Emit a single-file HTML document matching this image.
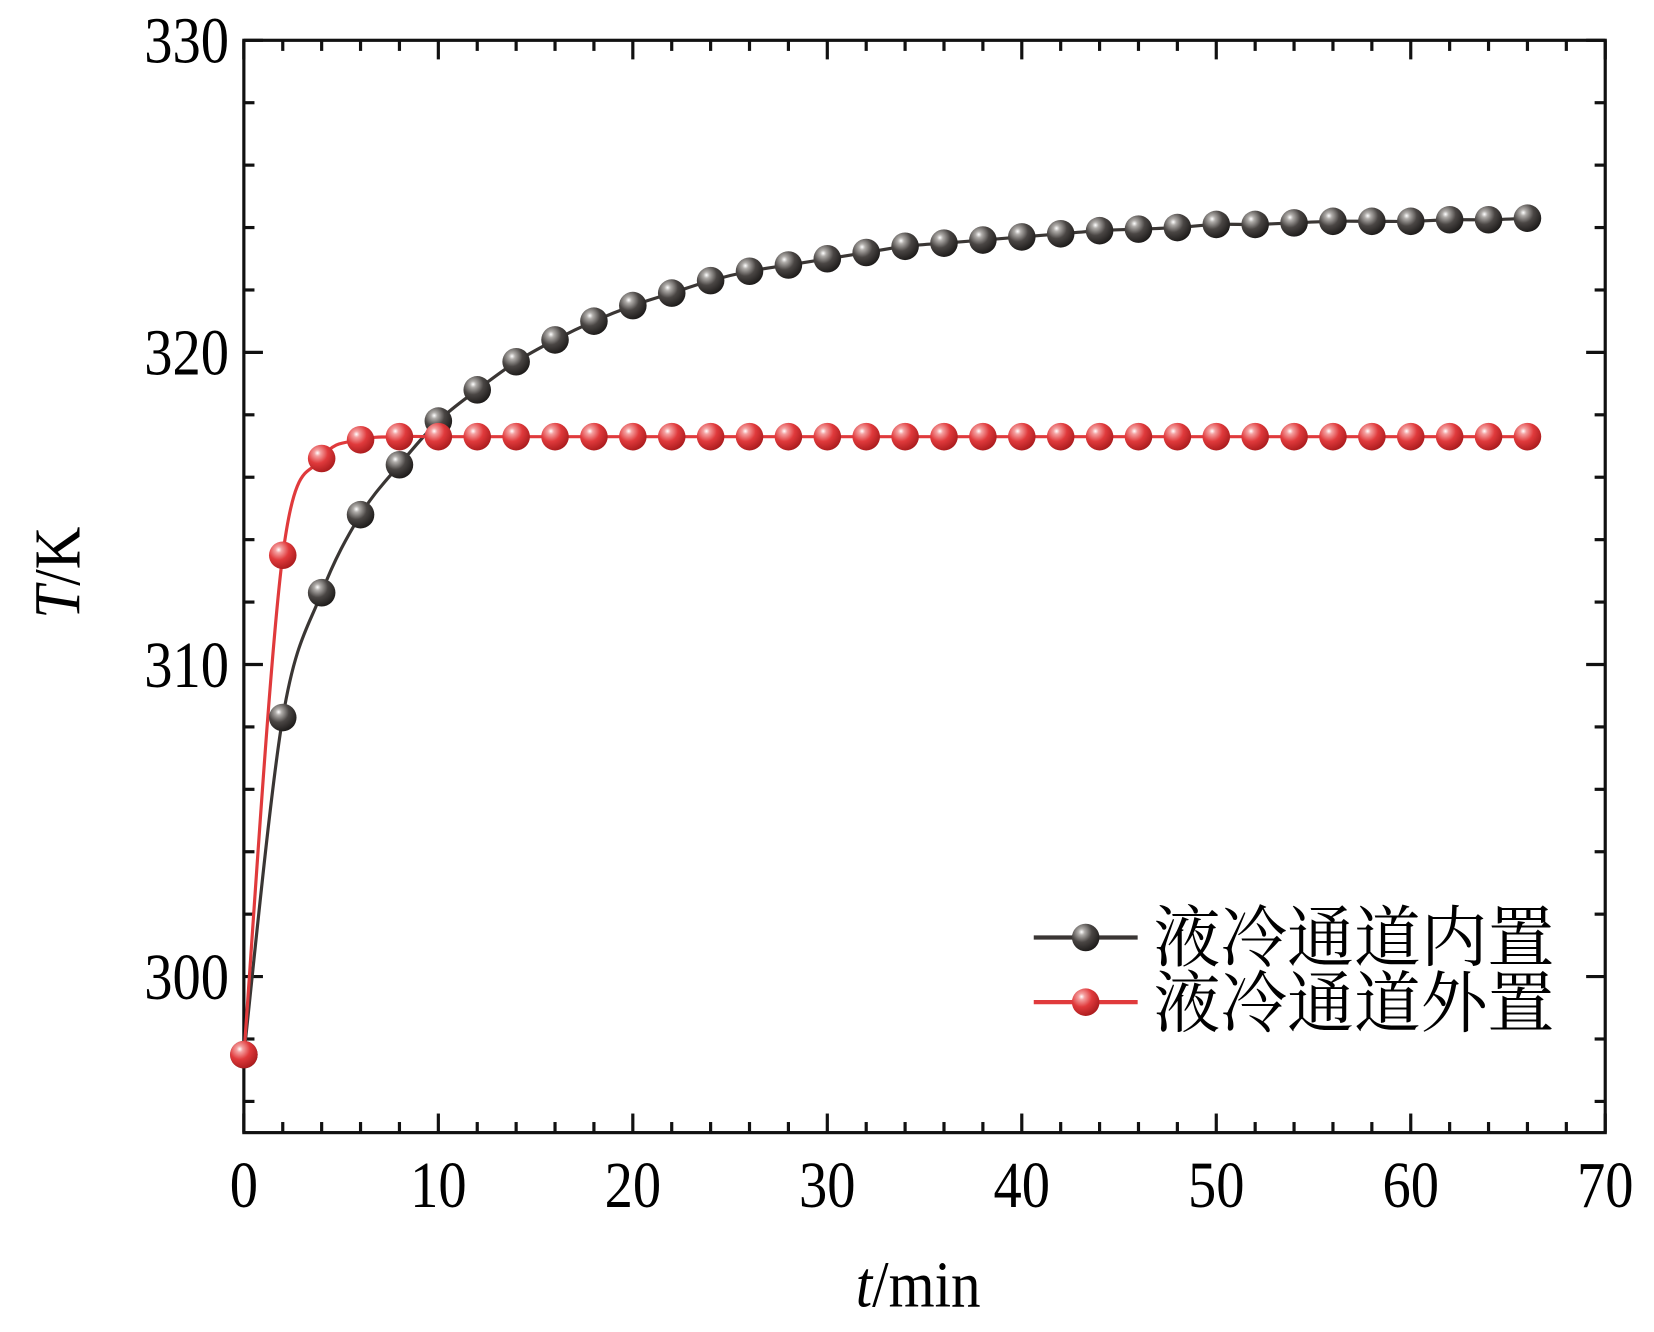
<!DOCTYPE html>
<html><head><meta charset="utf-8"><style>
html,body{margin:0;padding:0;background:#fff;}
svg{display:block;}
</style></head><body>
<svg id="s" width="1654" height="1332" viewBox="0 0 1560 1256" preserveAspectRatio="none" xmlns="http://www.w3.org/2000/svg">
<defs>
<radialGradient id="gk" cx="0.35" cy="0.3" r="0.75">
<stop offset="0" stop-color="#ffffff"/><stop offset="0.15" stop-color="#b0adaa"/><stop offset="0.5" stop-color="#4a4644"/><stop offset="1" stop-color="#1a1817"/>
</radialGradient>
<radialGradient id="gr" cx="0.35" cy="0.3" r="0.75">
<stop offset="0" stop-color="#ffffff"/><stop offset="0.15" stop-color="#f4a0a0"/><stop offset="0.5" stop-color="#e03a3c"/><stop offset="1" stop-color="#a81a1c"/>
</radialGradient>
</defs>
<g id="g"></g>
</svg>
<script>
const g=document.getElementById('g');
const R=1514, B=1068;
const X=t=>230+t*((R-230)/70), Y=v=>38+(330-v)*((B-38)/35);
let h='';
h+=`<rect x="230" y="38" width="${R-230}" height="${B-38}" fill="none" stroke="#111" stroke-width="3"/>`;
const F='font-family="Liberation Serif,serif"';
for(let t=0;t<=70;t+=2){const x=X(t),L=t%10==0?18:10;
h+=`<line x1="${x}" y1="${B}" x2="${x}" y2="${B-L}" stroke="#111" stroke-width="3"/><line x1="${x}" y1="38" x2="${x}" y2="${38+L}" stroke="#111" stroke-width="3"/>`;
if(t%10==0)h+=`<text transform="translate(${x},1138) scale(0.86,1)" font-size="62" text-anchor="middle" ${F}>${t}</text>`;}
for(let v=296;v<=330;v+=2){const y=Y(v),L=v%10==0?18:10;
h+=`<line x1="230" y1="${y}" x2="${230+L}" y2="${y}" stroke="#111" stroke-width="3"/><line x1="${R}" y1="${y}" x2="${R-L}" y2="${y}" stroke="#111" stroke-width="3"/>`;
if(v%10==0)h+=`<text transform="translate(216,${y+21}) scale(0.86,1)" font-size="62" text-anchor="end" ${F}>${v}</text>`;}
h+=`<text transform="translate(866,1232) scale(0.9,1)" font-size="62" text-anchor="middle" ${F}><tspan font-style="italic">t</tspan>/min</text>`;
h+=`<text transform="translate(75,540) rotate(-90) scale(0.9,1)" font-size="62" text-anchor="middle" ${F}><tspan font-style="italic">T</tspan>/K</text>`;
const k=[297.5,308.3,312.3,314.8,316.4,317.8,318.8,319.7,320.4,321.0,321.5,321.9,322.3,322.6,322.8,323.0,323.2,323.4,323.5,323.6,323.7,323.8,323.9,323.95,324.0,324.1,324.1,324.15,324.2,324.2,324.2,324.25,324.25,324.3];
const r=[297.5,313.5,316.6,317.2];while(r.length<34)r.push(317.3);
function curve(d,c){const P=d.map((v,i)=>[X(i*2),Y(v)]);let p='M'+P[0];
for(let i=0;i<P.length-1;i++){const a=P[Math.max(0,i-1)],b=P[i],c2=P[i+1],e=P[Math.min(P.length-1,i+2)];
const c1=[b[0]+(c2[0]-a[0])/6,b[1]+(c2[1]-a[1])/6],cc=[c2[0]-(e[0]-b[0])/6,c2[1]-(e[1]-b[1])/6];
p+=` C${c1} ${cc} ${c2}`;}
return `<path d="${p}" fill="none" stroke="${c}" stroke-width="3"/>`;}
function marks(d,gr){let s='';d.forEach((v,i)=>{s+=`<circle cx="${X(i*2)}" cy="${Y(v)}" r="13" fill="url(#${gr})"/>`});return s;}
h+=curve(k,'#3a3634')+curve(r,'#e03a3c')+marks(k,'gk')+marks(r,'gr');
h+='<line x1="975" y1="884" x2="1073" y2="884" stroke="#3a3634" stroke-width="4"/><circle cx="1024" cy="884" r="13" fill="url(#gk)"/>';
h+='<line x1="975" y1="945" x2="1073" y2="945" stroke="#e03a3c" stroke-width="4"/><circle cx="1024" cy="945" r="13" fill="url(#gr)"/>';
h+='<text x="1088" y="906" font-size="63" textLength="378" lengthAdjust="spacingAndGlyphs" font-family="Noto Serif CJK SC,serif">液冷通道内置</text>';
h+='<text x="1088" y="968" font-size="63" textLength="378" lengthAdjust="spacingAndGlyphs" font-family="Noto Serif CJK SC,serif">液冷通道外置</text>';
g.innerHTML=h;
</script>
</body></html>
